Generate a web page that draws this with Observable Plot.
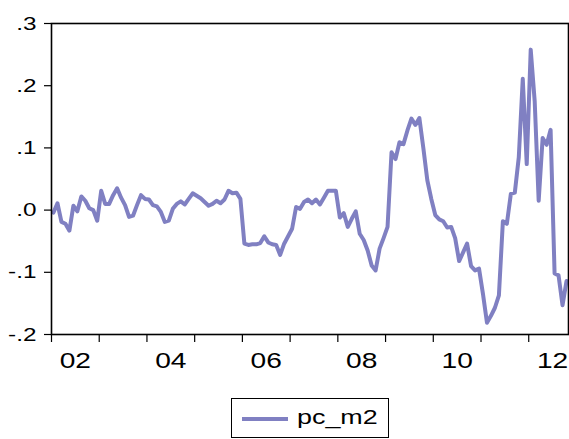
<!DOCTYPE html>
<html>
<head>
<meta charset="utf-8">
<script src="https://cdn.jsdelivr.net/npm/d3@7"></script>
<script src="https://cdn.jsdelivr.net/npm/@observablehq/plot@0.6"></script>
<style>
  html, body { margin: 0; padding: 0; background: #fff; }
  #wrap { position: relative; width: 569px; height: 439px; overflow: hidden; font-family: "Liberation Sans", Arial, sans-serif; }
  #legend { position: absolute; left: 231px; top: 398px; width: 158px; height: 40px; box-sizing: border-box; border: 1.5px solid #000; background: #fff; }
  #legend .swatch { position: absolute; left: 10px; top: 18px; width: 46px; height: 4px; }
  #legend .label { position: absolute; left: 65px; top: 6px; font-size: 21px; line-height: 24px; color: #000; transform: scaleX(1.28); transform-origin: left center; white-space: nowrap; }
</style>
</head>
<body>
<div id="wrap"><div id="chart"></div><div id="legend"><div class="swatch"></div><div class="label"></div></div></div>
<script>
// ---- data ----
const seriesName = "pc_m2";
const startYear = 2002;   // first observation: 2002m1 (monthly)
const pc_m2 = [
  -0.004, 0.011, -0.019, -0.022, -0.033, 0.007, -0.002, 0.022, 0.015, 0.003, 0.000, -0.017,
  0.031, 0.010, 0.010, 0.024, 0.035, 0.020, 0.008, -0.011, -0.009, 0.008, 0.024, 0.018,
  0.017, 0.008, 0.006, -0.003, -0.019, -0.017, 0.002, 0.010, 0.014, 0.009, 0.018, 0.027,
  0.023, 0.019, 0.013, 0.007, 0.010, 0.015, 0.011, 0.017, 0.031, 0.027, 0.028, 0.018,
  -0.054, -0.056, -0.055, -0.055, -0.053, -0.042, -0.052, -0.055, -0.056, -0.072, -0.054, -0.042,
  -0.030, 0.005, 0.002, 0.013, 0.017, 0.011, 0.017, 0.009, 0.020, 0.031, 0.031, 0.031,
  -0.012, -0.005, -0.027, -0.014, -0.002, -0.038, -0.048, -0.065, -0.089, -0.097, -0.062, -0.045,
  -0.027, 0.093, 0.082, 0.109, 0.106, 0.128, 0.147, 0.137, 0.148, 0.100, 0.048, 0.018,
  -0.008, -0.015, -0.018, -0.028, -0.027, -0.045, -0.082, -0.068, -0.054, -0.090, -0.097, -0.094,
  -0.135, -0.181, -0.170, -0.157, -0.137, -0.018, -0.022, 0.026, 0.028, 0.085, 0.211, 0.074,
  0.258, 0.175, 0.015, 0.116, 0.105, 0.129, -0.102, -0.105, -0.153, -0.114
];
const yTicks = [-0.2, -0.1, 0, 0.1, 0.2, 0.3];
const yTickLabels = ["-.2", "-.1", ".0", ".1", ".2", ".3"];
const xTickYears = [2002, 2003, 2004, 2005, 2006, 2007, 2008, 2009, 2010, 2011, 2012];
const xLabelYears = [2002, 2004, 2006, 2008, 2010, 2012];
const xLabels = ["02", "04", "06", "08", "10", "12"];
const lineColor = "#8080c2";

// ---- table (observation placed mid-month, as EViews does) ----
const data = pc_m2.map((v, i) => ({t: startYear + (i + 0.5) / 12, v}));
const xEnd = startYear + pc_m2.length / 12;

const chart = Plot.plot({
  width: 569,
  height: 390,
  marginLeft: 51,
  marginRight: 1,
  marginTop: 23,
  marginBottom: 56,
  style: {fontFamily: "'Liberation Sans', Arial, sans-serif", background: "#fff", color: "#000"},
  x: {type: "linear", domain: [startYear, xEnd], nice: false, label: null},
  y: {domain: [-0.2, 0.3], nice: false, label: null},
  marks: [
    Plot.axisY({ticks: yTicks, tickSize: 7, tickPadding: 8, fontSize: 19, stroke: "#000", strokeWidth: 1.2, label: null,
      tickFormat: d => yTickLabels[yTicks.findIndex(t => Math.abs(t - d) < 1e-9)]}),
    Plot.axisX({ticks: xTickYears, tickSize: 8, tickFormat: () => "", stroke: "#000", strokeWidth: 1.2, label: null}),
    Plot.axisX({ticks: xLabelYears.map(y => y + 0.5), tickSize: 0, tickPadding: 18, fontSize: 22, label: null,
      tickFormat: d => xLabels[xLabelYears.findIndex(y => Math.abs(y + 0.5 - d) < 1e-9)]}),
    Plot.line(data, {x: "t", y: "v", stroke: lineColor, strokeWidth: 4, strokeLinejoin: "round", strokeLinecap: "round"}),
    Plot.frame({stroke: "#000", strokeWidth: 1.6})
  ]
});

document.getElementById("chart").appendChild(chart);
document.querySelector("#legend .swatch").style.background = lineColor;
document.querySelector("#legend .label").textContent = seriesName;

// widen tick label glyphs (the reference text is horizontally stretched):
// wrap each label in a group scaled about its own anchor point
const SX = 1.28;
chart.querySelectorAll("text").forEach(el => {
  if (!el.textContent) return;
  const b = el.getBBox();
  const anchor = el.getAttribute("text-anchor") || (el.parentNode && el.parentNode.getAttribute && el.parentNode.getAttribute("text-anchor")) || "middle";
  let ax;
  if (anchor === "end") ax = b.x + b.width; else if (anchor === "start") ax = b.x; else ax = b.x + b.width / 2;
  const m = el.transform && el.transform.baseVal && el.transform.baseVal.consolidate();
  let px = ax, py = b.y + b.height / 2;
  if (m) { const mm = m.matrix; const qx = mm.a * px + mm.c * py + mm.e; const qy = mm.b * px + mm.d * py + mm.f; px = qx; py = qy; }
  const g = document.createElementNS("http://www.w3.org/2000/svg", "g");
  g.setAttribute("transform", `translate(${px},0) scale(${SX},1) translate(${-px},0)`);
  el.parentNode.insertBefore(g, el);
  g.appendChild(el);
});
</script>
</body>
</html>
